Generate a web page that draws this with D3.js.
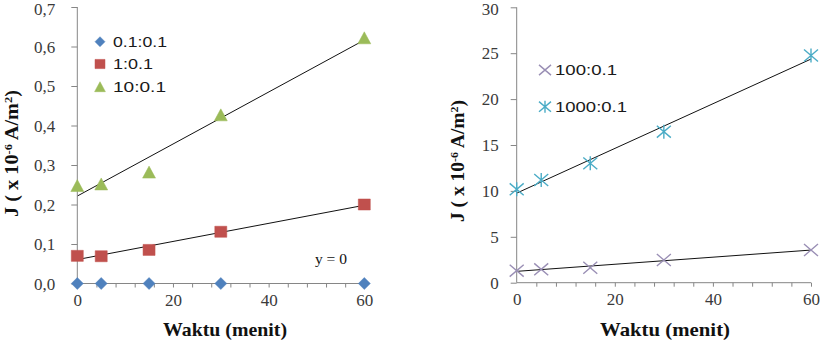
<!DOCTYPE html>
<html>
<head>
<meta charset="utf-8">
<script src="https://cdn.jsdelivr.net/npm/d3@7"></script>
<style>
  html, body { margin: 0; padding: 0; background: #fff; }
  svg { display: block; }
</style>
</head>
<body>
<svg id="chart" width="822" height="341"></svg>
<script>
// ---------- DATA ----------
const timeMinutes = [0, 5, 15, 30, 60];
const leftSeriesNames = ["0.1:0.1", "1:0.1", "10:0.1"];
const series_0_1 = [0, 0, 0, 0, 0];
const series_1 = [0.070, 0.069, 0.085, 0.131, 0.200];
const series_10 = [0.248, 0.252, 0.282, 0.427, 0.622];
const rightSeriesNames = ["100:0.1", "1000:0.1"];
const series_100 = [1.31, 1.46, 1.63, 2.47, 3.56];
const series_1000 = [10.17, 11.19, 13.0, 16.45, 24.75];
const xTickValues = [0, 20, 40, 60];
const xMinorStep = 4;
const leftYTickValues = [0, 0.1, 0.2, 0.3, 0.4, 0.5, 0.6, 0.7];
const rightYTickValues = [0, 5, 10, 15, 20, 25, 30];
const xTitle = "Waktu (menit)";
const zeroTrendLabel = "y = 0";

// ---------- HELPERS ----------
const svg = d3.select("#chart");
const axisColor = "#868686";
const tickTextColor = "#3a3a3a";

function regress(xs, ys) {
  const mx = d3.mean(xs), my = d3.mean(ys);
  let sxy = 0, sxx = 0;
  xs.forEach((x, i) => { sxy += (x - mx) * (ys[i] - my); sxx += (x - mx) * (x - mx); });
  const b = sxx ? sxy / sxx : 0;
  return { a: my - b * mx, b };
}

const markerPaths = {
  diamond: r => `M0,${-r}L${r},0L0,${r}L${-r},0Z`,
  square: r => `M${-r},${-r * 0.92}H${r}V${r * 0.92}H${-r}Z`,
  triangle: r => `M0,${-r}L${r * 1.08},${r}L${-r * 1.08},${r}Z`,
  cross: r => `M${-r},${-r * 0.85}L${r},${r * 0.85}M${-r},${r * 0.85}L${r},${-r * 0.85}`,
  star: r => `M${-r},${-r * 0.85}L${r},${r * 0.85}M${-r},${r * 0.85}L${r},${-r * 0.85}M0,${-r}V${r}`
};

function drawMarker(g, type, color, x, y, r) {
  const filled = type === "diamond" || type === "square" || type === "triangle";
  g.append("path")
    .attr("transform", `translate(${x},${y})`)
    .attr("d", markerPaths[type](r))
    .attr("fill", filled ? color : "none")
    .attr("stroke", color)
    .attr("stroke-width", filled ? 0.5 : 1.4);
}

function drawPanel(cfg) {
  const g = svg.append("g");
  const x = d3.scaleLinear().domain([0, 60]).range([cfg.x0, cfg.x1]);
  const y = d3.scaleLinear().domain(cfg.yDomain).range([cfg.y0, cfg.y1]);

  // trendlines (below axes/markers)
  cfg.series.forEach(s => {
    const r = regress(timeMinutes, s.values);
    g.append("line")
      .attr("x1", x(0)).attr("y1", y(r.a))
      .attr("x2", x(60)).attr("y2", y(r.a + r.b * 60))
      .attr("stroke", "#111").attr("stroke-width", 1);
  });

  // x axis with minor ticks every 4
  const xAxis = d3.axisBottom(x)
    .tickValues(d3.range(0, 61, xMinorStep))
    .tickSize(4).tickFormat("");
  const gx = g.append("g").attr("transform", `translate(0,${y(0)})`).call(xAxis);
  gx.select(".domain").attr("stroke", axisColor).attr("d", `M${x(0)},0H${x(60)}`);
  gx.selectAll(".tick line").attr("stroke", axisColor);
  gx.selectAll(".tick").filter(d => d === 0).remove();

  // x tick labels
  const xLab = d3.axisBottom(x).tickValues(xTickValues).tickSize(0).tickFormat(d3.format("d"));
  const gxl = g.append("g").attr("transform", `translate(0,${y(0)})`).call(xLab);
  gxl.select(".domain").remove();
  gxl.selectAll("text")
    .attr("y", 0).attr("dy", 0)
    .attr("transform", `translate(0,${cfg.xLabelBase - y(0)})`)
    .attr("font-family", "'Liberation Serif', 'Times New Roman', serif")
    .attr("font-size", 17).attr("fill", tickTextColor);

  // y axis
  const yAxis = d3.axisLeft(y).tickValues(cfg.yTicks).tickSize(6).tickPadding(cfg.yPad)
    .tickFormat(cfg.yFormat);
  const gy = g.append("g").attr("transform", `translate(${x(0)},0)`).call(yAxis);
  gy.select(".domain").attr("stroke", axisColor).attr("d", `M0,${y(cfg.yDomain[1])}V${y(0)}`);
  gy.selectAll(".tick line").attr("stroke", axisColor);
  gy.selectAll("text")
    .attr("font-family", "'Liberation Serif', 'Times New Roman', serif")
    .attr("font-size", 17).attr("fill", tickTextColor)
    .attr("dy", d => d === cfg.yDomain[1] ? "0.42em" : "0.33em");

  // markers
  cfg.series.forEach(s => {
    timeMinutes.forEach((t, i) => drawMarker(g, s.marker, s.color, x(t), y(s.values[i]), s.r));
  });

  // legend
  cfg.series.forEach((s, i) => {
    if (!s.name) return;
    const ly = cfg.legendY[i];
    drawMarker(g, s.marker, s.color, cfg.legendX, ly, s.lr);
    g.append("text")
      .attr("x", cfg.legendTextX).attr("y", ly).attr("dy", "0.36em")
      .attr("font-family", "'Liberation Sans', Arial, sans-serif")
      .attr("font-size", 14.5).attr("fill", "#1a1a1a")
      .attr("textLength", s.nameLen).attr("lengthAdjust", "spacingAndGlyphs")
      .text(s.name);
  });

  // x title
  g.append("text")
    .attr("x", cfg.xTitleX).attr("y", cfg.xTitleY)
    .attr("text-anchor", "middle")
    .attr("font-family", "'Liberation Serif', 'Times New Roman', serif")
    .attr("font-weight", "bold").attr("font-size", 19).attr("fill", "#111")
    .attr("textLength", cfg.xTitleLen).attr("lengthAdjust", "spacingAndGlyphs")
    .text(xTitle);

  // y title
  const yt = g.append("text")
    .attr("transform", `translate(${cfg.yTitleX},${cfg.yTitleY}) rotate(-90)`)
    .attr("text-anchor", "middle")
    .attr("font-family", "'Liberation Serif', 'Times New Roman', serif")
    .attr("font-weight", "bold").attr("font-size", 18).attr("fill", "#111")
    .attr("textLength", cfg.yTitleLen).attr("lengthAdjust", "spacingAndGlyphs");
  yt.append("tspan").text("J ( x 10");
  yt.append("tspan").attr("font-size", 11).attr("dy", -6).text("-6");
  yt.append("tspan").attr("dy", 6).text(" A/m");
  yt.append("tspan").attr("font-size", 11).attr("dy", -6).text("2");
  yt.append("tspan").attr("dy", 6).text(")");

  return { g, x, y };
}

// ---------- LEFT PANEL ----------
const left = drawPanel({
  x0: 77.3, x1: 364.3, y0: 283.5, y1: 7, yDomain: [0, 0.7],
  yTicks: leftYTickValues, yFormat: d => d3.format(".1f")(d).replace(".", ","), yPad: 16,
  xLabelBase: 306,
  series: [
    { name: leftSeriesNames[0], values: series_0_1, marker: "diamond", color: "#4F81BD", r: 6, lr: 5, nameLen: 54 },
    { name: leftSeriesNames[1], values: series_1, marker: "square", color: "#C0504D", r: 6, lr: 5, nameLen: 40 },
    { name: leftSeriesNames[2], values: series_10, marker: "triangle", color: "#9BBB59", r: 6, lr: 5, nameLen: 53 }
  ],
  legendX: 100, legendTextX: 113, legendY: [41.7, 64, 86.7],
  xTitleX: 225, xTitleY: 336, xTitleLen: 124,
  yTitleX: 18, yTitleY: 153.5, yTitleLen: 127
});
left.g.append("text")
  .attr("x", 331).attr("y", 259).attr("dy", "0.33em").attr("text-anchor", "middle")
  .attr("font-family", "'Liberation Serif', 'Times New Roman', serif")
  .attr("font-size", 14).attr("fill", "#111")
  .attr("textLength", 32).attr("lengthAdjust", "spacingAndGlyphs")
  .text(zeroTrendLabel);

// ---------- RIGHT PANEL ----------
drawPanel({
  x0: 516.7, x1: 811, y0: 282.7, y1: 7.3, yDomain: [0, 30],
  yTicks: rightYTickValues, yFormat: d3.format("d"), yPad: 12,
  xLabelBase: 305,
  series: [
    { name: rightSeriesNames[0], values: series_100, marker: "cross", color: "#9A8FB5", r: 7, lr: 6, nameLen: 62 },
    { name: rightSeriesNames[1], values: series_1000, marker: "star", color: "#4BACC6", r: 7, lr: 6, nameLen: 72 }
  ],
  legendX: 545, legendTextX: 555, legendY: [70, 106.7],
  xTitleX: 665, xTitleY: 336, xTitleLen: 130,
  yTitleX: 464, yTitleY: 161, yTitleLen: 122
});
</script>
</body>
</html>
